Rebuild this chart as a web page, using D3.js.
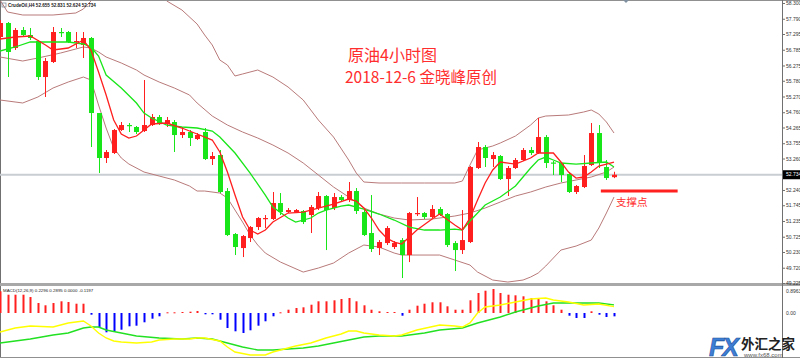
<!DOCTYPE html>
<html><head><meta charset="utf-8">
<script src="https://cdn.jsdelivr.net/npm/d3@7"></script>
<style>body{margin:0;background:#fff}svg{display:block}</style>
</head><body><svg id="c" width="800" height="360"></svg>
<script>
// ---- candle data (CrudeOil H4) ----
const opens  = [57.198,57.652,56.841,57.425,57.263,57.068,55.901,56.388,57.360,57.360,57.036,56.939,57.166,54.734,53.276,53.438,54.183,54.345,54.281,54.151,54.345,54.605,54.378,54.443,54.021,54.119,53.892,54.119,53.243,53.373,52.206,50.812,50.358,50.682,51.039,51.320,51.299,51.817,51.525,51.525,51.558,51.428,51.655,52.044,51.655,52.011,51.914,52.206,51.525,50.845,50.358,50.520,50.391,50.617,50.131,51.480,51.493,51.363,51.623,51.461,50.520,50.293,50.553,52.952,53.632,53.243,53.341,52.595,52.952,53.211,53.535,53.438,53.956,53.130,53.114,52.757,52.174,52.336,53.049,54.086,52.984,52.655];
const highs  = [57.749,57.684,57.490,57.522,57.490,57.101,56.517,57.522,57.490,57.392,57.360,57.360,57.198,54.734,53.535,54.216,54.443,54.410,54.313,55.804,54.702,54.670,54.605,54.507,54.281,54.183,54.086,54.248,53.470,53.535,52.303,50.845,50.780,51.071,51.363,51.428,52.174,52.141,51.655,51.623,51.590,51.752,52.174,52.076,52.141,52.076,52.498,52.303,51.590,52.076,50.617,51.071,50.585,50.682,51.525,52.011,51.525,51.752,51.687,51.493,50.585,51.590,53.017,53.794,53.697,53.470,53.373,53.017,53.276,53.600,53.632,54.572,54.021,53.179,53.146,52.822,52.401,53.373,54.410,54.345,53.211,52.831];
const lows   = [57.101,55.901,56.777,57.198,57.101,55.804,55.253,56.355,57.198,57.003,56.841,56.517,53.632,52.789,53.114,53.405,54.151,54.119,54.054,54.119,54.313,54.345,54.281,53.470,53.924,53.665,53.859,53.211,53.049,52.141,50.747,50.131,50.066,50.553,50.942,51.007,51.266,51.428,51.493,51.493,51.136,50.845,51.590,50.293,51.590,51.849,51.849,51.461,50.747,50.229,50.131,50.456,50.326,49.386,49.904,51.396,51.299,51.331,51.396,50.391,49.613,50.164,50.520,52.919,52.984,52.984,52.563,52.044,52.919,53.179,53.373,53.405,52.952,52.725,52.498,52.141,52.109,52.303,53.017,52.952,52.563,52.624];
const closes = [57.652,56.712,57.425,57.263,57.166,55.901,56.420,57.360,57.350,57.036,57.068,57.166,54.734,53.276,53.470,54.183,54.345,54.313,54.119,54.345,54.605,54.378,54.507,54.021,54.119,53.924,54.021,53.243,53.341,52.174,50.780,50.391,50.747,51.039,51.331,51.331,51.817,51.525,51.590,51.590,51.201,51.687,52.044,51.590,52.011,51.914,52.206,51.558,50.780,50.326,50.553,51.007,50.520,50.131,51.493,51.493,51.363,51.623,51.428,50.456,50.293,50.617,52.984,53.632,53.276,53.373,52.595,52.952,53.211,53.535,53.438,53.956,53.114,53.114,52.725,52.174,52.368,53.017,54.086,53.114,52.627,52.734];

// ---- indicator lines, [bar index, value] ----
const maFast = [[0,57.133],[2,57.198],[4,57.230],[6,56.939],[7,56.777],[9,56.841],[11,57.101],[12,56.777],[13,56.064],[14,55.318],[15,54.507],[16,54.054],[17,53.924],[18,53.989],[19,54.183],[20,54.378],[22,54.410],[24,54.248],[26,54.054],[28,53.859],[29,53.470],[30,52.822],[31,52.076],[32,51.363],[33,50.942],[34,50.812],[35,50.942],[36,51.201],[38,51.493],[40,51.525],[42,51.655],[44,51.785],[46,51.947],[47,51.882],[48,51.655],[49,51.331],[50,50.942],[51,50.682],[52,50.553],[53,50.488],[55,50.942],[57,51.299],[58,51.461],[60,51.104],[61,50.942],[62,51.331],[63,51.914],[64,52.466],[65,52.887],[66,53.146],[68,53.081],[70,53.276],[71,53.438],[73,53.438],[74,53.146],[75,52.822],[76,52.627],[77,52.660],[78,52.822],[79,53.017],[80,53.081],[81,53.146]];
const maSlow = [[0,56.744],[2,56.874],[4,57.036],[9,57.036],[11,56.971],[12,56.874],[13,56.582],[14,55.966],[16,55.545],[18,55.058],[19,54.734],[20,54.572],[22,54.345],[24,54.281],[26,54.248],[28,54.151],[29,53.956],[31,53.438],[33,52.789],[35,52.076],[36,51.687],[38,51.331],[39,51.201],[41,51.331],[42,51.493],[43,51.590],[45,51.720],[46,51.752],[48,51.623],[50,51.461],[52,51.266],[54,51.039],[56,50.942],[58,50.942],[60,50.974],[61,50.942],[62,51.234],[64,51.752],[66,52.011],[68,52.368],[70,52.952],[71,53.211],[72,53.308],[73,53.211],[74,53.114],[76,53.081],[78,53.114],[80,53.146],[81,52.984]];
const bbUpper = [[0,58.397],[1,58.008],[3,57.911],[7,57.911],[10,57.976],[11,58.106],[12,58.365],[13,58.883],[15,59.694],[18,59.856],[20,59.370],[22,58.365],[24,58.073],[26,57.619],[27,57.263],[28,56.939],[29,56.452],[30,56.290],[31,55.934],[32,55.999],[34,56.128],[36,55.901],[38,55.577],[40,55.156],[42,54.507],[44,53.956],[46,53.211],[47,52.789],[48,52.498],[50,52.466],[53,52.466],[56,52.466],[60,52.466],[61,52.530],[62,53.049],[63,53.535],[65,53.665],[66,53.762],[68,53.989],[70,54.345],[71,54.572],[72,54.637],[75,54.670],[77,54.767],[78,54.832],[79,54.702],[80,54.443],[81,54.086]];
const bbMiddle = [[0,56.550],[3,56.420],[5,56.517],[8,56.679],[10,56.809],[11,56.874],[12,56.841],[13,56.712],[14,56.550],[16,56.355],[18,56.128],[19,55.966],[21,55.739],[23,55.545],[25,55.318],[26,55.059],[28,54.637],[30,54.345],[32,54.119],[34,53.924],[36,53.697],[38,53.438],[40,53.114],[42,52.725],[44,52.336],[46,52.011],[48,51.655],[50,51.461],[52,51.331],[54,51.266],[57,51.299],[60,51.396],[62,51.493],[64,51.655],[66,51.849],[68,52.044],[70,52.174],[72,52.336],[74,52.466],[76,52.563],[78,52.660],[80,52.822],[81,52.984]];
const bbLower = [[0,55.156],[3,55.059],[5,55.253],[7,55.545],[9,55.739],[11,55.901],[12,55.804],[13,54.994],[14,54.248],[15,53.600],[16,53.276],[17,53.081],[19,52.822],[21,52.692],[23,52.563],[25,52.368],[26,52.206],[27,52.206],[29,52.141],[30,51.979],[31,51.590],[32,51.201],[33,50.780],[34,50.456],[35,50.196],[37,49.904],[40,49.580],[42,49.710],[44,49.872],[46,50.196],[48,50.456],[50,50.391],[52,50.196],[53,50.131],[58,50.131],[60,49.969],[62,49.807],[63,49.580],[65,49.321],[67,49.256],[69,49.321],[70,49.418],[71,49.548],[72,49.775],[73,50.034],[74,50.293],[76,50.423],[78,50.617],[79,51.007],[80,51.493],[81,52.011]];

// ---- MACD(12,26,9) ----
const macdHist = [0.778,0.656,0.656,0.656,0.573,0.358,0.276,0.358,0.419,0.394,0.333,0.333,-0.061,-0.502,-0.692,-0.656,-0.599,-0.477,-0.455,-0.333,-0.204,-0.118,0.025,0.025,0.036,0.047,0.072,-0.047,-0.047,-0.240,-0.538,-0.656,-0.717,-0.620,-0.455,-0.297,-0.118,0.025,0.118,0.179,0.204,0.297,0.419,0.419,0.455,0.502,0.538,0.419,0.276,0.118,0.061,0.036,0.036,-0.097,0.118,0.262,0.333,0.384,0.384,0.240,0.118,0.118,0.455,0.717,0.799,0.860,0.717,0.656,0.634,0.599,0.538,0.538,0.419,0.276,0.118,-0.097,-0.179,-0.179,0.061,-0.061,-0.143,-0.1197];
const macdDif = [[0,-0.681],[2,-0.538],[4,-0.466],[7,-0.502],[9,-0.358],[10,-0.323],[11,-0.287],[12,-0.466],[13,-0.717],[14,-0.896],[15,-1.004],[16,-1.039],[18,-1.075],[20,-1.039],[21,-0.968],[23,-0.932],[25,-0.932],[26,-0.896],[27,-0.896],[29,-1.004],[30,-1.219],[31,-1.398],[33,-1.505],[35,-1.505],[36,-1.398],[37,-1.326],[39,-1.183],[41,-1.075],[43,-0.896],[45,-0.753],[46,-0.645],[47,-0.645],[48,-0.717],[50,-0.789],[52,-0.824],[53,-0.789],[55,-0.609],[58,-0.430],[60,-0.466],[61,-0.502],[62,-0.358],[63,0.000],[64,0.215],[66,0.287],[68,0.394],[70,0.502],[72,0.538],[73,0.466],[75,0.394],[77,0.287],[79,0.323],[81,0.2296]];
const macdDea = [[0,-1.075],[2,-1.004],[4,-0.932],[7,-0.789],[9,-0.717],[11,-0.538],[12,-0.502],[13,-0.502],[14,-0.609],[16,-0.717],[18,-0.824],[21,-0.896],[24,-0.932],[26,-0.896],[28,-0.932],[30,-1.075],[32,-1.219],[34,-1.326],[36,-1.326],[38,-1.290],[40,-1.254],[42,-1.183],[44,-1.075],[46,-0.968],[48,-0.860],[50,-0.824],[53,-0.824],[56,-0.717],[58,-0.609],[61,-0.538],[63,-0.358],[66,-0.143],[68,0.036],[71,0.251],[73,0.358],[76,0.358],[79,0.358],[81,0.2895]];

// ---- labels / ticks ----
const priceTicks = [58.300,57.790,57.295,56.785,56.275,55.780,55.270,54.760,54.265,53.755,53.260,52.240,51.745,51.235,50.725,50.230,49.720,49.225];
const lastPrice = 52.734;
const macdTicks = [0.8963, 0];
const macdTickLabels = ["0.8963", "0.00"];
const titleText = "CrudeOil,H4 52.655 52.831 52.624 52.734";
const macdText = "MACD(12,26,9) 0.2296 0.2895 0.0000 -0.1197";
const note1 = "原油4小时图";
const note2 = "2018-12-6 金晓峰原创";
const supportText = "支撑点";
const supportLevel = 52.240;
const supportFrom = 79, supportTo = 89;

// ---- drawing ----
const svg = d3.select("#c");
const RED = "#ff1f1f", GREEN = "#19e619", BB = "#b97a7a";
const x = d3.scaleLinear().domain([0, 81]).range([0, 614]);
const y = d3.scaleLinear().domain([49.225, 58.300]).range([283, 3]);
const ym = d3.scaleLinear().domain([0, 0.8963]).range([313, 288]);

const defs = svg.append("defs");
defs.append("clipPath").attr("id","mainClip").append("rect").attr("x",0).attr("y",1).attr("width",782).attr("height",282);
defs.append("clipPath").attr("id","macdClip").append("rect").attr("x",0).attr("y",287).attr("width",782).attr("height",70);

// frames
svg.append("line").attr("x1",0).attr("x2",800).attr("y1",0.5).attr("y2",0.5).attr("stroke","#909090");
svg.append("line").attr("x1",0.5).attr("x2",0.5).attr("y1",0).attr("y2",358).attr("stroke","#707070");
svg.append("rect").attr("x",0).attr("y",283).attr("width",800).attr("height",3).attr("fill","#a8a8a8");
svg.append("line").attr("x1",0).attr("x2",800).attr("y1",357.5).attr("y2",357.5).attr("stroke","#909090");

// current price line
svg.append("line").attr("x1",0).attr("x2",782).attr("y1",y(lastPrice)).attr("y2",y(lastPrice)).attr("stroke","#c9ced3").attr("stroke-width",2);

const main = svg.append("g").attr("clip-path","url(#mainClip)");
const lineGen = d3.line().x(d => x(d[0])).y(d => y(d[1]));
[bbUpper, bbMiddle, bbLower].forEach(s => main.append("path").attr("d", lineGen(s)).attr("fill","none").attr("stroke",BB).attr("stroke-width",1));

// candles
const bars = d3.range(opens.length).map(i => ({i, o:opens[i], h:highs[i], l:lows[i], c:closes[i]}));
const cg = main.append("g");
bars.forEach(b => {
  const col = b.c >= b.o ? RED : GREEN;
  const cx = Math.round(x(b.i)) + 0.5;
  cg.append("line").attr("x1",cx).attr("x2",cx).attr("y1",y(b.h)).attr("y2",y(b.l)).attr("stroke",col).attr("stroke-width",1);
  const top = y(Math.max(b.o,b.c)), bot = y(Math.min(b.o,b.c));
  cg.append("rect").attr("x",cx-2.5).attr("y",top).attr("width",5).attr("height",Math.max(1.2, bot-top)).attr("fill",col);
});

main.append("path").attr("d", lineGen(maSlow)).attr("fill","none").attr("stroke",GREEN).attr("stroke-width",1.3);
main.append("path").attr("d", lineGen(maFast)).attr("fill","none").attr("stroke",RED).attr("stroke-width",1.3);

// price axis
const ax = svg.append("g").attr("transform","translate(782,0)")
  .call(d3.axisRight(y).tickValues(priceTicks).tickSize(3).tickFormat(d3.format(".3f")));
ax.select(".domain").attr("stroke","#707070").attr("d","M0.5,0V358");
ax.selectAll("line").attr("stroke","#707070");
ax.selectAll("text").attr("font-family","Liberation Sans, Arial, sans-serif").attr("font-size",5).attr("fill","#333").attr("x",4);

// last price tag
svg.append("rect").attr("x",783).attr("y",y(lastPrice)-4.5).attr("width",17).attr("height",9).attr("fill","#000");
svg.append("text").attr("x",786).attr("y",y(lastPrice)).attr("dy","0.35em").attr("font-family","Liberation Sans, Arial, sans-serif").attr("font-size",5).attr("fill","#fff").text(d3.format(".3f")(lastPrice));

// chart shift marker
svg.append("path").attr("d",`M${x(81)+9},0L${x(81)+12},3L${x(81)+15},0Z`).attr("fill","#8090a0");

// title
svg.append("rect").attr("x",2).attr("y",3).attr("width",4).attr("height",4).attr("fill","none").attr("stroke","#708090").attr("stroke-width",0.7);
svg.append("text").attr("x",8).attr("y",7).attr("font-family","Liberation Sans, Arial, sans-serif").attr("font-size",4.6).attr("font-weight","bold").attr("fill","#222").text(titleText);

// annotations
svg.append("text").attr("x",348).attr("y",61).attr("font-family","Noto Sans CJK SC, sans-serif").attr("font-size",16).attr("fill","#ff2d2d").text(note1);
svg.append("text").attr("x",345).attr("y",83).attr("font-family","Noto Sans CJK SC, sans-serif").attr("font-size",15.5).attr("fill","#ff2d2d").text(note2);
svg.append("line").attr("x1",x(supportFrom)+2).attr("x2",x(supportTo)+3).attr("y1",y(supportLevel)+1).attr("y2",y(supportLevel)+1).attr("stroke","#ff2020").attr("stroke-width",3);
svg.append("text").attr("x",616).attr("y",206).attr("font-family","Noto Sans CJK SC, sans-serif").attr("font-size",10.5).attr("fill","#ff2d2d").text(supportText);

// MACD panel
const mg = svg.append("g").attr("clip-path","url(#macdClip)");
macdHist.forEach((v,i) => {
  const y0 = ym(0), y1 = ym(v);
  mg.append("rect").attr("x",Math.round(x(i))-0.5).attr("y",Math.min(y0,y1)).attr("width",2).attr("height",Math.max(1,Math.abs(y1-y0)))
    .attr("fill", v >= 0 ? RED : "#0000ff");
});
const mline = d3.line().x(d => x(d[0])).y(d => ym(d[1]));
mg.append("path").attr("d", mline(macdDea)).attr("fill","none").attr("stroke","#22e022").attr("stroke-width",1.4);
mg.append("path").attr("d", mline(macdDif)).attr("fill","none").attr("stroke","#ffff00").attr("stroke-width",1.4);
svg.append("text").attr("x",3).attr("y",292).attr("font-family","Liberation Sans, Arial, sans-serif").attr("font-size",4.4).attr("fill","#222").text(macdText);
const max = svg.append("g").attr("transform","translate(782,0)")
  .call(d3.axisRight(ym).tickValues(macdTicks).tickSize(0).tickFormat((d,i) => macdTickLabels[i]));
max.select(".domain").remove();
max.selectAll("text").attr("font-family","Liberation Sans, Arial, sans-serif").attr("font-size",5).attr("fill","#333").attr("x",4);
max.selectAll("text").filter((d,i)=>i===0).attr("dy","0.9em");

// watermark
const wm = svg.append("g");
wm.append("text").attr("x",709).attr("y",356).attr("font-family","Liberation Sans, Arial, sans-serif").attr("font-size",25).attr("font-weight","bold").attr("font-style","italic").attr("fill","#3d7fd6").attr("stroke","#1f4f9a").attr("stroke-width",0.6).attr("textLength",30).text("FX");
wm.append("text").attr("x",741).attr("y",349).attr("font-family","Noto Sans CJK SC, sans-serif").attr("font-size",13.5).attr("font-weight","bold").attr("fill","#222").text("外汇之家");
wm.append("text").attr("x",744).attr("y",357).attr("font-family","Liberation Sans, Arial, sans-serif").attr("font-size",6).attr("fill","#555").text("www.fx68.com");
</script></body></html>
